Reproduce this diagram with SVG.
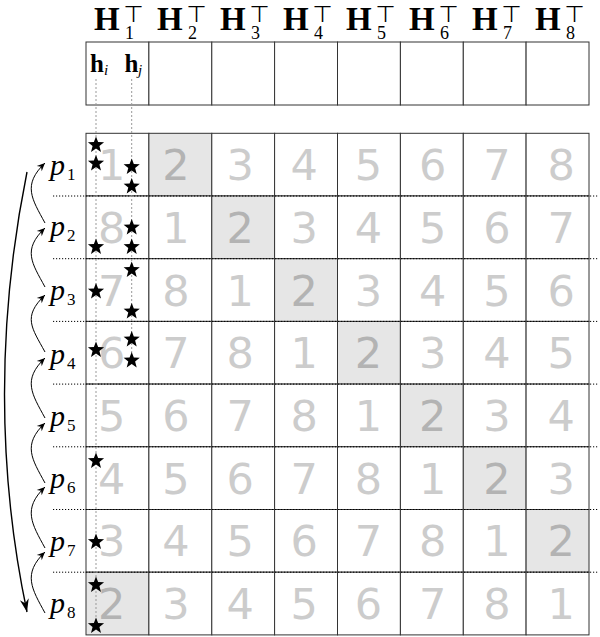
<svg xmlns="http://www.w3.org/2000/svg" xmlns:xlink="http://www.w3.org/1999/xlink" width="600" height="637" viewBox="0 0 600 637">
<style>
.cell{fill:#fff;stroke:#333;stroke-width:1}
.hl{fill:#e6e6e6;stroke:#333;stroke-width:1}
.num{font-family:"DejaVu Sans",sans-serif;font-size:43px;fill:#ccc;text-anchor:middle}
.num2{fill:#b3b3b3}
.H{font-family:"Liberation Serif",serif;font-weight:bold;font-size:33px;fill:#000}
.sub{font-family:"Liberation Serif",serif;font-weight:normal;font-size:18px}
.tee{font-family:"DejaVu Sans",sans-serif;font-weight:normal;font-size:23px}
.hv{font-family:"Liberation Serif",serif;font-weight:bold;font-size:25px;fill:#000}
.it{font-weight:normal;font-style:italic;font-size:15px}
.p{font-family:"Liberation Serif",serif;font-style:italic;font-size:30px;fill:#000}
.psub{font-style:normal;font-size:17px}
.dot{stroke:#000;stroke-width:1;stroke-dasharray:1.2 1.8;fill:none}
.gdot{stroke:#999;stroke-width:1;stroke-dasharray:2 2;fill:none}
.arr{stroke:#000;stroke-width:1;fill:none;marker-end:url(#ah)}
.long{stroke:#000;stroke-width:1.4;fill:none;marker-end:url(#ahb)}
</style>
<defs>
<path id="star" d="M0,-8.5 L2.116,-2.912 L8.084,-2.627 L3.424,1.112 L4.996,6.877 L0,3.6 L-4.996,6.877 L-3.424,1.112 L-8.084,-2.627 L-2.116,-2.912 Z" fill="#000"/>
<marker id="ah" markerUnits="userSpaceOnUse" markerWidth="12" markerHeight="12" viewBox="-10 -6 12 12" refX="0" refY="0" orient="auto">
<path d="M0,0 L-8,-3.6 L-5.5,0 L-8,3.6 Z" fill="#000"/>
</marker>
<marker id="ahb" markerUnits="userSpaceOnUse" markerWidth="16" markerHeight="16" viewBox="-14 -8 16 16" refX="0" refY="0" orient="auto">
<path d="M0,0 L-13,-4.5 L-9,0 L-13,4.5 Z" fill="#000"/>
</marker>
</defs>
<rect width="600" height="637" fill="#fff"/>

<g id="header">
<g id="hcol1"><rect class="cell" x="86" y="42" width="62.9" height="63"/><text class="H" x="94" y="30">H<tspan class="sub" x="125" y="38.5">1</tspan><tspan class="tee" x="123.5" y="21.5">⊤</tspan></text>
<text class="hv" x="90" y="72">h<tspan class="it" x="104" y="75">i</tspan></text><text class="hv" x="124.5" y="72">h<tspan class="it" x="138" y="75">j</tspan></text></g>
<g id="hcol2"><rect class="cell" x="148.9" y="42" width="62.9" height="63"/><text class="H" x="157" y="30">H<tspan class="sub" x="188" y="38.5">2</tspan><tspan class="tee" x="186.5" y="21.5">⊤</tspan></text></g>
<g id="hcol3"><rect class="cell" x="211.8" y="42" width="62.8" height="63"/><text class="H" x="220" y="30">H<tspan class="sub" x="251" y="38.5">3</tspan><tspan class="tee" x="249.5" y="21.5">⊤</tspan></text></g>
<g id="hcol4"><rect class="cell" x="274.6" y="42" width="62.9" height="63"/><text class="H" x="283" y="30">H<tspan class="sub" x="314" y="38.5">4</tspan><tspan class="tee" x="312.5" y="21.5">⊤</tspan></text></g>
<g id="hcol5"><rect class="cell" x="337.5" y="42" width="62.9" height="63"/><text class="H" x="346" y="30">H<tspan class="sub" x="377" y="38.5">5</tspan><tspan class="tee" x="375.5" y="21.5">⊤</tspan></text></g>
<g id="hcol6"><rect class="cell" x="400.4" y="42" width="62.9" height="63"/><text class="H" x="409" y="30">H<tspan class="sub" x="440" y="38.5">6</tspan><tspan class="tee" x="438.5" y="21.5">⊤</tspan></text></g>
<g id="hcol7"><rect class="cell" x="463.3" y="42" width="62.8" height="63"/><text class="H" x="472" y="30">H<tspan class="sub" x="503" y="38.5">7</tspan><tspan class="tee" x="501.5" y="21.5">⊤</tspan></text></g>
<g id="hcol8"><rect class="cell" x="526.1" y="42" width="62.9" height="63"/><text class="H" x="535" y="30">H<tspan class="sub" x="566" y="38.5">8</tspan><tspan class="tee" x="564.5" y="21.5">⊤</tspan></text></g>
</g>

<g id="row1">
<rect class="cell" x="86" y="133.3" width="62.9" height="62.7"/><rect class="hl" x="148.9" y="133.3" width="62.9" height="62.7"/><rect class="cell" x="211.8" y="133.3" width="62.8" height="62.7"/><rect class="cell" x="274.6" y="133.3" width="62.9" height="62.7"/><rect class="cell" x="337.5" y="133.3" width="62.9" height="62.7"/><rect class="cell" x="400.4" y="133.3" width="62.9" height="62.7"/><rect class="cell" x="463.3" y="133.3" width="62.8" height="62.7"/><rect class="cell" x="526.1" y="133.3" width="62.9" height="62.7"/>
<text class="num" x="111.7" y="180.2">1</text><text class="num num2" x="175.9" y="180.2">2</text><text class="num" x="240.1" y="180.2">3</text><text class="num" x="304.3" y="180.2">4</text><text class="num" x="368.5" y="180.2">5</text><text class="num" x="432.7" y="180.2">6</text><text class="num" x="496.9" y="180.2">7</text><text class="num" x="561.1" y="180.2">8</text>
</g>
<g id="row2">
<rect class="cell" x="86" y="196" width="62.9" height="62.7"/><rect class="cell" x="148.9" y="196" width="62.9" height="62.7"/><rect class="hl" x="211.8" y="196" width="62.8" height="62.7"/><rect class="cell" x="274.6" y="196" width="62.9" height="62.7"/><rect class="cell" x="337.5" y="196" width="62.9" height="62.7"/><rect class="cell" x="400.4" y="196" width="62.9" height="62.7"/><rect class="cell" x="463.3" y="196" width="62.8" height="62.7"/><rect class="cell" x="526.1" y="196" width="62.9" height="62.7"/>
<text class="num" x="111.7" y="242.9">8</text><text class="num" x="175.9" y="242.9">1</text><text class="num num2" x="240.1" y="242.9">2</text><text class="num" x="304.3" y="242.9">3</text><text class="num" x="368.5" y="242.9">4</text><text class="num" x="432.7" y="242.9">5</text><text class="num" x="496.9" y="242.9">6</text><text class="num" x="561.1" y="242.9">7</text>
</g>
<g id="row3">
<rect class="cell" x="86" y="258.7" width="62.9" height="62.7"/><rect class="cell" x="148.9" y="258.7" width="62.9" height="62.7"/><rect class="cell" x="211.8" y="258.7" width="62.8" height="62.7"/><rect class="hl" x="274.6" y="258.7" width="62.9" height="62.7"/><rect class="cell" x="337.5" y="258.7" width="62.9" height="62.7"/><rect class="cell" x="400.4" y="258.7" width="62.9" height="62.7"/><rect class="cell" x="463.3" y="258.7" width="62.8" height="62.7"/><rect class="cell" x="526.1" y="258.7" width="62.9" height="62.7"/>
<text class="num" x="111.7" y="305.6">7</text><text class="num" x="175.9" y="305.6">8</text><text class="num" x="240.1" y="305.6">1</text><text class="num num2" x="304.3" y="305.6">2</text><text class="num" x="368.5" y="305.6">3</text><text class="num" x="432.7" y="305.6">4</text><text class="num" x="496.9" y="305.6">5</text><text class="num" x="561.1" y="305.6">6</text>
</g>
<g id="row4">
<rect class="cell" x="86" y="321.4" width="62.9" height="62.7"/><rect class="cell" x="148.9" y="321.4" width="62.9" height="62.7"/><rect class="cell" x="211.8" y="321.4" width="62.8" height="62.7"/><rect class="cell" x="274.6" y="321.4" width="62.9" height="62.7"/><rect class="hl" x="337.5" y="321.4" width="62.9" height="62.7"/><rect class="cell" x="400.4" y="321.4" width="62.9" height="62.7"/><rect class="cell" x="463.3" y="321.4" width="62.8" height="62.7"/><rect class="cell" x="526.1" y="321.4" width="62.9" height="62.7"/>
<text class="num" x="111.7" y="368.3">6</text><text class="num" x="175.9" y="368.3">7</text><text class="num" x="240.1" y="368.3">8</text><text class="num" x="304.3" y="368.3">1</text><text class="num num2" x="368.5" y="368.3">2</text><text class="num" x="432.7" y="368.3">3</text><text class="num" x="496.9" y="368.3">4</text><text class="num" x="561.1" y="368.3">5</text>
</g>
<g id="row5">
<rect class="cell" x="86" y="384.1" width="62.9" height="62.7"/><rect class="cell" x="148.9" y="384.1" width="62.9" height="62.7"/><rect class="cell" x="211.8" y="384.1" width="62.8" height="62.7"/><rect class="cell" x="274.6" y="384.1" width="62.9" height="62.7"/><rect class="cell" x="337.5" y="384.1" width="62.9" height="62.7"/><rect class="hl" x="400.4" y="384.1" width="62.9" height="62.7"/><rect class="cell" x="463.3" y="384.1" width="62.8" height="62.7"/><rect class="cell" x="526.1" y="384.1" width="62.9" height="62.7"/>
<text class="num" x="111.7" y="431">5</text><text class="num" x="175.9" y="431">6</text><text class="num" x="240.1" y="431">7</text><text class="num" x="304.3" y="431">8</text><text class="num" x="368.5" y="431">1</text><text class="num num2" x="432.7" y="431">2</text><text class="num" x="496.9" y="431">3</text><text class="num" x="561.1" y="431">4</text>
</g>
<g id="row6">
<rect class="cell" x="86" y="446.8" width="62.9" height="62.7"/><rect class="cell" x="148.9" y="446.8" width="62.9" height="62.7"/><rect class="cell" x="211.8" y="446.8" width="62.8" height="62.7"/><rect class="cell" x="274.6" y="446.8" width="62.9" height="62.7"/><rect class="cell" x="337.5" y="446.8" width="62.9" height="62.7"/><rect class="cell" x="400.4" y="446.8" width="62.9" height="62.7"/><rect class="hl" x="463.3" y="446.8" width="62.8" height="62.7"/><rect class="cell" x="526.1" y="446.8" width="62.9" height="62.7"/>
<text class="num" x="111.7" y="493.7">4</text><text class="num" x="175.9" y="493.7">5</text><text class="num" x="240.1" y="493.7">6</text><text class="num" x="304.3" y="493.7">7</text><text class="num" x="368.5" y="493.7">8</text><text class="num" x="432.7" y="493.7">1</text><text class="num num2" x="496.9" y="493.7">2</text><text class="num" x="561.1" y="493.7">3</text>
</g>
<g id="row7">
<rect class="cell" x="86" y="509.5" width="62.9" height="62.7"/><rect class="cell" x="148.9" y="509.5" width="62.9" height="62.7"/><rect class="cell" x="211.8" y="509.5" width="62.8" height="62.7"/><rect class="cell" x="274.6" y="509.5" width="62.9" height="62.7"/><rect class="cell" x="337.5" y="509.5" width="62.9" height="62.7"/><rect class="cell" x="400.4" y="509.5" width="62.9" height="62.7"/><rect class="cell" x="463.3" y="509.5" width="62.8" height="62.7"/><rect class="hl" x="526.1" y="509.5" width="62.9" height="62.7"/>
<text class="num" x="111.7" y="556.4">3</text><text class="num" x="175.9" y="556.4">4</text><text class="num" x="240.1" y="556.4">5</text><text class="num" x="304.3" y="556.4">6</text><text class="num" x="368.5" y="556.4">7</text><text class="num" x="432.7" y="556.4">8</text><text class="num" x="496.9" y="556.4">1</text><text class="num num2" x="561.1" y="556.4">2</text>
</g>
<g id="row8">
<rect class="hl" x="86" y="572.2" width="62.9" height="62.7"/><rect class="cell" x="148.9" y="572.2" width="62.9" height="62.7"/><rect class="cell" x="211.8" y="572.2" width="62.8" height="62.7"/><rect class="cell" x="274.6" y="572.2" width="62.9" height="62.7"/><rect class="cell" x="337.5" y="572.2" width="62.9" height="62.7"/><rect class="cell" x="400.4" y="572.2" width="62.9" height="62.7"/><rect class="cell" x="463.3" y="572.2" width="62.8" height="62.7"/><rect class="cell" x="526.1" y="572.2" width="62.9" height="62.7"/>
<text class="num num2" x="111.7" y="619.1">2</text><text class="num" x="175.9" y="619.1">3</text><text class="num" x="240.1" y="619.1">4</text><text class="num" x="304.3" y="619.1">5</text><text class="num" x="368.5" y="619.1">6</text><text class="num" x="432.7" y="619.1">7</text><text class="num" x="496.9" y="619.1">8</text><text class="num" x="561.1" y="619.1">1</text>
</g>

<g id="rowlines">
<path class="dot" d="M53,196H598M53,258.7H598M53,321.4H598M53,384.1H598M53,446.8H598M53,509.5H598M53,572.2H598"/>
</g>

<g id="guides">
<path class="gdot" d="M96,79V626M131.7,79V361"/>
</g>

<g id="stars">
<use href="#star" x="96" y="145"/><use href="#star" x="96" y="163.5"/><use href="#star" x="131.7" y="167"/><use href="#star" x="131.7" y="186.5"/>
<use href="#star" x="131.7" y="227.5"/><use href="#star" x="96" y="247"/><use href="#star" x="131.7" y="247"/>
<use href="#star" x="131.7" y="270"/><use href="#star" x="96" y="291.5"/><use href="#star" x="131.7" y="311.5"/>
<use href="#star" x="131.7" y="339.5"/><use href="#star" x="96" y="350"/><use href="#star" x="131.7" y="360.5"/>
<use href="#star" x="96" y="461"/>
<use href="#star" x="96" y="542"/><use href="#star" x="96" y="585"/><use href="#star" x="96" y="626"/>
</g>

<g id="p1"><text class="p" x="50" y="175">p<tspan class="psub" x="67" y="180">1</tspan></text></g>
<g id="p2"><text class="p" x="50" y="235.5">p<tspan class="psub" x="67" y="240.5">2</tspan></text></g>
<g id="p3"><text class="p" x="50" y="300">p<tspan class="psub" x="67" y="305">3</tspan></text></g>
<g id="p4"><text class="p" x="50" y="364">p<tspan class="psub" x="67" y="369">4</tspan></text></g>
<g id="p5"><text class="p" x="50" y="425.5">p<tspan class="psub" x="67" y="430.5">5</tspan></text></g>
<g id="p6"><text class="p" x="50" y="488">p<tspan class="psub" x="67" y="493">6</tspan></text></g>
<g id="p7"><text class="p" x="50" y="550.5">p<tspan class="psub" x="67" y="555.5">7</tspan></text></g>
<g id="p8"><text class="p" x="50" y="613">p<tspan class="psub" x="67" y="618">8</tspan></text></g>

<g id="connectors">
<path class="arr" d="M45,223 C32,199 22,185 45,163"/>
<path class="arr" d="M45,287 C32,263 22,250 45,228"/>
<path class="arr" d="M45,352 C32,328 22,317 45,295"/>
<path class="arr" d="M45,418 C32,394 22,380 45,358"/>
<path class="arr" d="M45,483 C32,459 22,445 45,423"/>
<path class="arr" d="M45,548 C32,524 22,509 45,487"/>
<path class="arr" d="M45,613 C32,589 22,574 45,552"/>
<path class="long" d="M27,172 C-3,320 -3,470 27,612"/>
</g>
</svg>
